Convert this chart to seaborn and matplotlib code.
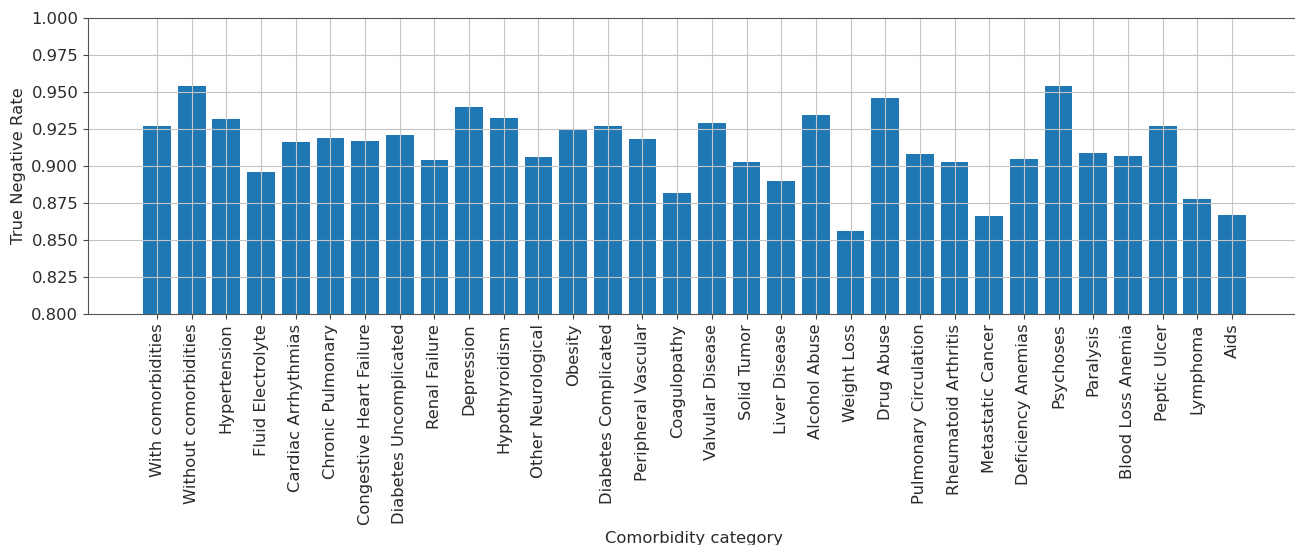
import matplotlib
matplotlib.use("Agg")
import matplotlib.pyplot as plt
import seaborn as sns
import pandas as pd

categories = [
    "With comorbidities", "Without comorbidities", "Hypertension", "Fluid Electrolyte",
    "Cardiac Arrhythmias", "Chronic Pulmonary", "Congestive Heart Failure",
    "Diabetes Uncomplicated", "Renal Failure", "Depression", "Hypothyroidism",
    "Other Neurological", "Obesity", "Diabetes Complicated", "Peripheral Vascular",
    "Coagulopathy", "Valvular Disease", "Solid Tumor", "Liver Disease", "Alcohol Abuse",
    "Weight Loss", "Drug Abuse", "Pulmonary Circulation", "Rheumatoid Arthritis",
    "Metastatic Cancer", "Deficiency Anemias", "Psychoses", "Paralysis",
    "Blood Loss Anemia", "Peptic Ulcer", "Lymphoma", "Aids",
]
tnr = [
    0.927, 0.954, 0.932, 0.896, 0.9165, 0.919, 0.917, 0.921, 0.904, 0.940, 0.9325,
    0.906, 0.924, 0.927, 0.918, 0.882, 0.929, 0.903, 0.890, 0.9345, 0.856, 0.946,
    0.908, 0.903, 0.866, 0.905, 0.954, 0.909, 0.907, 0.927, 0.878, 0.867,
]
yticks = [0.800, 0.825, 0.850, 0.875, 0.900, 0.925, 0.950, 0.975, 1.000]

df = pd.DataFrame({"category": categories, "tnr": tnr})

plt.rcParams["font.family"] = ["DejaVu Sans"]
plt.rcParams["font.size"] = 11.8
plt.rcParams["text.color"] = "#2a2a2a"
plt.rcParams["axes.labelcolor"] = "#2a2a2a"
plt.rcParams["xtick.color"] = "#444444"
plt.rcParams["ytick.color"] = "#444444"
plt.rcParams["xtick.labelcolor"] = "#2a2a2a"
plt.rcParams["ytick.labelcolor"] = "#2a2a2a"

fig = plt.figure(figsize=(12.95, 5.45), dpi=100)
W, H = 1295, 545
ax = fig.add_axes([88 / W, (H - 314) / H, 1213 / W, 296 / H])

sns.barplot(data=df, x="category", y="tnr", color="#1f77b4", saturation=1,
            width=0.8, ax=ax, errorbar=None)

n = len(categories)
span = (n - 1) + 0.8
ax.set_xlim(-0.4 - 0.05 * span, n - 1 + 0.4 + 0.05 * span)
ax.set_ylim(yticks[0], yticks[-1])
ax.set_yticks(yticks)
ax.set_yticklabels([f"{v:.3f}" for v in yticks], fontsize=11.8)
ax.tick_params(axis="x", labelrotation=90, labelsize=11.8)
ax.tick_params(axis="y", labelsize=11.8)
ax.set_xlabel("Comorbidity category", fontsize=11.8)
ax.set_ylabel("True Negative Rate", fontsize=11.8)
for s in ax.spines.values():
    s.set_color("#555555")
    s.set_zorder(4)

# grid drawn on top of the bars, at the tick positions
ax.grid(False)
grid_kw = dict(color="#c4c4c4", linewidth=0.8, zorder=3)
for v in yticks[1:-1]:
    ax.axhline(v, **grid_kw)
for i in range(n):
    ax.axvline(i, **grid_kw)

fig.savefig("out.png", dpi=100)
